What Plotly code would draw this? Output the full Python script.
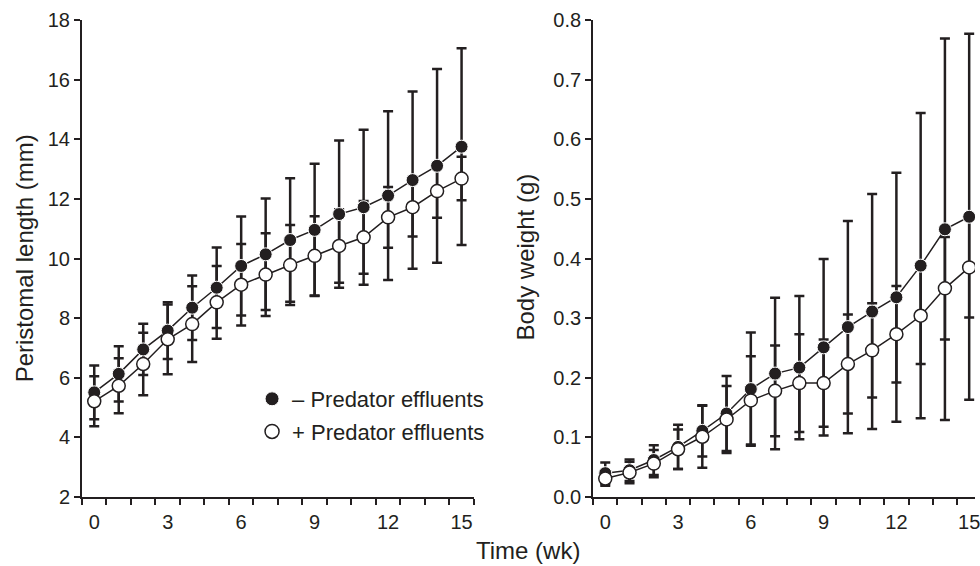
import plotly.graph_objects as go

# ---- data ----
weeks = list(range(16))

len_minus = [5.51, 6.13, 6.95, 7.58, 8.35, 9.02, 9.75, 10.14, 10.62, 10.96, 11.49, 11.72, 12.11, 12.63, 13.11, 13.75]
len_minus_sd = [0.90, 0.93, 0.86, 0.95, 1.08, 1.35, 1.66, 1.87, 2.07, 2.22, 2.47, 2.60, 2.83, 2.97, 3.25, 3.30]
len_plus = [5.21, 5.73, 6.46, 7.29, 7.80, 8.53, 9.12, 9.46, 9.78, 10.09, 10.42, 10.71, 11.38, 11.72, 12.26, 12.68]
len_plus_sd = [0.84, 0.92, 1.05, 1.17, 1.27, 1.22, 1.37, 1.39, 1.34, 1.33, 1.23, 1.22, 1.02, 0.98, 0.89, 0.73]

wt_minus = [0.040, 0.045, 0.062, 0.084, 0.111, 0.140, 0.181, 0.207, 0.217, 0.251, 0.285, 0.311, 0.335, 0.388, 0.449, 0.470]
wt_minus_sd = [0.018, 0.018, 0.025, 0.037, 0.043, 0.063, 0.095, 0.127, 0.120, 0.148, 0.178, 0.197, 0.209, 0.256, 0.320, 0.307]
wt_plus = [0.031, 0.041, 0.056, 0.080, 0.101, 0.130, 0.162, 0.178, 0.191, 0.191, 0.223, 0.246, 0.273, 0.304, 0.350, 0.385]
wt_plus_sd = [0.012, 0.018, 0.023, 0.033, 0.052, 0.056, 0.074, 0.076, 0.082, 0.073, 0.083, 0.079, 0.081, 0.081, 0.086, 0.084]

x_tick_vals = [0, 3, 6, 9, 12, 15]
len_ticks = [2, 4, 6, 8, 10, 12, 14, 16, 18]
wt_ticks = [0.0, 0.1, 0.2, 0.3, 0.4, 0.5, 0.6, 0.7, 0.8]

label_minus = "\u2013 Predator effluents"
label_plus = "+ Predator effluents"

# ---- style ----
C = "#231f20"
FONT = "Liberation Sans, Arial, Helvetica, sans-serif"
TICK_SIZE = 20

fig = go.Figure()

def add_panel(xa, ya, ym, ym_sd, yp, yp_sd):
    # error bars first (under all markers)
    for y, sd in ((ym, ym_sd), (yp, yp_sd)):
        fig.add_trace(go.Scatter(
            x=weeks, y=y, mode="markers", xaxis=xa, yaxis=ya,
            marker=dict(size=1, color="rgba(0,0,0,0)"),
            error_y=dict(type="data", array=sd, visible=True, color=C,
                         thickness=2.5, width=5),
            showlegend=False, hoverinfo="skip"))
    # minus (filled)
    fig.add_trace(go.Scatter(
        x=weeks, y=ym, mode="lines+markers", xaxis=xa, yaxis=ya,
        line=dict(color=C, width=1.5),
        marker=dict(size=13, color=C, line=dict(color="white", width=1)),
        showlegend=False))
    # plus (open)
    fig.add_trace(go.Scatter(
        x=weeks, y=yp, mode="lines+markers", xaxis=xa, yaxis=ya,
        line=dict(color=C, width=1.5),
        marker=dict(size=13, color="white", line=dict(color=C, width=1.5)),
        showlegend=False))

add_panel("x", "y", len_minus, len_minus_sd, len_plus, len_plus_sd)
add_panel("x2", "y2", wt_minus, wt_minus_sd, wt_plus, wt_plus_sd)

# legend entries
fig.add_trace(go.Scatter(x=[None], y=[None], mode="markers", name=label_minus,
                         legendgroup="a",
                         marker=dict(size=14, color=C, line=dict(color="white", width=1))))
fig.add_trace(go.Scatter(x=[None], y=[None], mode="markers", name=label_plus,
                         legendgroup="b",
                         marker=dict(size=14, color="white", line=dict(color=C, width=1.5))))

L, R, T, B = 82, 0, 20, 69
W, H = 980, 566
PW = W - L - R
PH = H - T - B

def px_x(p):
    return (p - L) / PW

def px_y(p):
    return (H - B - p) / PH

common_x = dict(
    showline=True, linecolor=C, linewidth=2, mirror=False,
    showgrid=False, zeroline=False,
    tickmode="array", tickvals=x_tick_vals,
    ticks="outside", ticklen=6, tickwidth=2, tickcolor="rgba(0,0,0,0)",
    tickfont=dict(family=FONT, size=TICK_SIZE, color=C),
    ticklabeloverflow="allow",
    minor=dict(tickmode="linear", tick0=-0.5, dtick=1, ticks="outside",
               ticklen=6, tickwidth=2, tickcolor=C, showgrid=False),
)
common_y = dict(
    showline=True, linecolor=C, linewidth=2,
    showgrid=False, zeroline=False,
    ticks="outside", ticklen=6, tickwidth=2, tickcolor=C,
    tickfont=dict(family=FONT, size=TICK_SIZE, color=C),
    tickmode="array",
)

fig.update_layout(
    width=W, height=H,
    margin=dict(l=L, r=R, t=T, b=B, pad=0),
    paper_bgcolor="white", plot_bgcolor="white",
    font=dict(family=FONT, color=C),
    xaxis=dict(domain=[0, px_x(476)], range=[-0.5, 15.5], anchor="y", **common_x),
    xaxis2=dict(domain=[px_x(596), 1], range=[-0.5, 15.24], anchor="y2", **common_x),
    yaxis=dict(domain=[0, 1], range=[2, 18], anchor="x", tickvals=len_ticks, **common_y),
    yaxis2=dict(domain=[0, 1], range=[0, 0.8], anchor="x2", tickvals=wt_ticks,
                tickformat=".1f", **common_y),
    showlegend=True,
    legend=dict(x=px_x(253), y=px_y(378), xanchor="left", yanchor="top",
                bgcolor="rgba(0,0,0,0)", borderwidth=0,
                font=dict(family=FONT, size=22, color=C),
                tracegroupgap=1, itemsizing="trace"),
    annotations=[
        dict(text="Peristomal length (mm)", x=px_x(24), y=px_y(258), xref="paper", yref="paper",
             textangle=-90, showarrow=False, font=dict(family=FONT, size=24, color=C),
             xanchor="center", yanchor="middle"),
        dict(text="Body weight (g)", x=px_x(527), y=px_y(257), xref="paper", yref="paper",
             textangle=-90, showarrow=False, font=dict(family=FONT, size=24, color=C),
             xanchor="center", yanchor="middle"),
        dict(text="Time (wk)", x=px_x(530), y=px_y(550), xref="paper", yref="paper",
             showarrow=False, font=dict(family=FONT, size=24, color=C),
             xanchor="center", yanchor="middle"),
    ],
)

fig.write_html("out.html", config={"displayModeBar": False},
               post_script="document.body.style.margin='0';document.body.style.overflow='hidden';")
